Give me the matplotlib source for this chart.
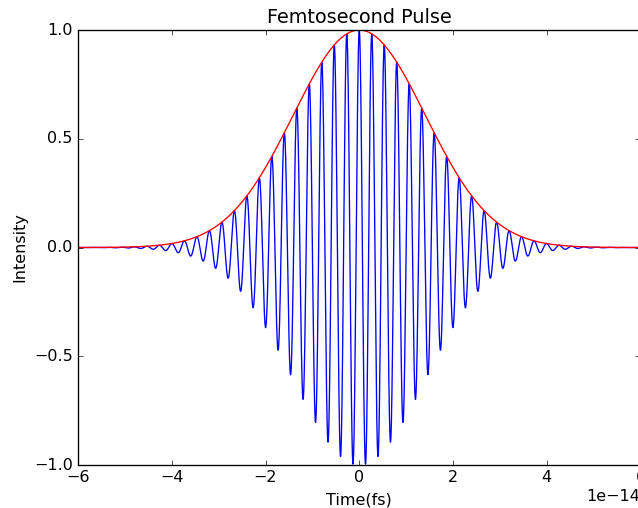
import numpy as np
import matplotlib
matplotlib.use('Agg')
import matplotlib.pyplot as plt

plt.style.use('classic')

# pulse parameters
tau = 2.0e-14          # envelope width (s), exp(-(t/tau)^2)
wavelength = 800e-9    # carrier wavelength (m)
c = 3.0e8
t_range = [-6e-14, 6e-14]

t = np.linspace(t_range[0], t_range[1], 4000)
envelope = np.exp(-(t / tau) ** 2)
omega = 2 * np.pi * c / wavelength
field = envelope * np.cos(omega * t)

fig = plt.figure(figsize=(638 / 96, 508 / 96), dpi=96)
ax = fig.add_axes([0.1223, 0.0846, 0.8816, 0.8563])

ax.plot(t, field, color='b')
ax.plot(t, envelope, color='r')

ax.set_xlim(t_range)
ax.set_ylim(-1.0, 1.0)
ax.set_yticks([-1.0, -0.5, 0.0, 0.5, 1.0])
ax.set_title('Femtosecond Pulse')
ax.set_xlabel('Time(fs)')
ax.set_ylabel('Intensity')

fig.savefig('out.png', dpi=96)
